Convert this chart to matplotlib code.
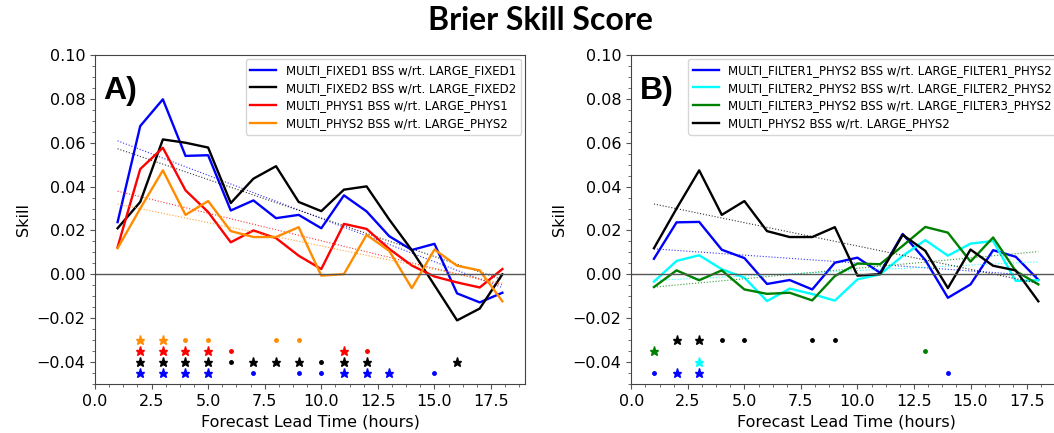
import numpy as np
import matplotlib
matplotlib.use('Agg')
import matplotlib.pyplot as plt
from matplotlib.ticker import AutoMinorLocator

# Brier skill score vs forecast lead time, two panels

hours = np.arange(1, 19)

# panel A series
fixed1 = [0.0238, 0.0676, 0.0798, 0.0540, 0.0543, 0.0291, 0.0337, 0.0256, 0.0271,
          0.0210, 0.0360, 0.0287, 0.0174, 0.0111, 0.0139, -0.0087, -0.0128, -0.0084]
fixed2 = [0.0210, 0.0330, 0.0615, 0.0600, 0.0578, 0.0325, 0.0436, 0.0493, 0.0330,
          0.0288, 0.0386, 0.0401, 0.0250, 0.0110, -0.0050, -0.0210, -0.0156, 0.0000]
phys1 = [0.0124, 0.0480, 0.0577, 0.0383, 0.0284, 0.0146, 0.0200, 0.0165, 0.0085,
         0.0024, 0.0230, 0.0207, 0.0116, 0.0040, -0.0010, -0.0037, -0.0060, 0.0024]
phys2 = [0.0119, 0.0300, 0.0474, 0.0271, 0.0334, 0.0197, 0.0170, 0.0170, 0.0215,
         -0.0006, 0.0001, 0.0180, 0.0107, -0.0063, 0.0113, 0.0039, 0.0018, -0.0123]

# panel B series
filter1 = [0.0071, 0.0237, 0.0239, 0.0112, 0.0074, -0.0044, -0.0026, -0.0069, 0.0053,
           0.0076, 0.0007, 0.0184, 0.0065, -0.0107, -0.0046, 0.0110, 0.0080, -0.0025]
filter2 = [-0.0033, 0.0061, 0.0087, 0.0023, -0.0015, -0.0122, -0.0065, -0.0090, -0.0120,
           -0.0023, 0.0000, 0.0084, 0.0156, 0.0085, 0.0140, 0.0152, -0.0030, -0.0027]
filter3 = [-0.0058, 0.0018, -0.0027, 0.0018, -0.0069, -0.0089, -0.0084, -0.0119, -0.0008,
           0.0049, 0.0046, 0.0130, 0.0216, 0.0190, 0.0058, 0.0168, 0.0015, -0.0046]

# significance markers: (row y, star hours, dot hours)
sig_a = {
    'darkorange': (-0.030, [2, 3], [4, 5, 8, 9]),
    'red': (-0.035, [2, 3, 4, 5, 11], [6, 12]),
    'black': (-0.040, [2, 3, 4, 5, 7, 8, 9, 11, 12, 16], [6, 10]),
    'blue': (-0.045, [2, 3, 4, 5, 11, 12, 13], [7, 9, 10, 15]),
}
sig_b = {
    'black': (-0.030, [2, 3], [4, 5, 8, 9]),
    'green': (-0.035, [1], [13]),
    'cyan': (-0.040, [3], []),
    'blue': (-0.045, [2, 3], [1, 14]),
}

labels_a = ['MULTI_FIXED1 BSS w/rt. LARGE_FIXED1',
            'MULTI_FIXED2 BSS w/rt. LARGE_FIXED2',
            'MULTI_PHYS1 BSS w/rt. LARGE_PHYS1',
            'MULTI_PHYS2 BSS w/rt. LARGE_PHYS2']
labels_b = ['MULTI_FILTER1_PHYS2 BSS w/rt. LARGE_FILTER1_PHYS2',
            'MULTI_FILTER2_PHYS2 BSS w/rt. LARGE_FILTER2_PHYS2',
            'MULTI_FILTER3_PHYS2 BSS w/rt. LARGE_FILTER3_PHYS2',
            'MULTI_PHYS2 BSS w/rt. LARGE_PHYS2']
colors_a = ['blue', 'black', 'red', 'darkorange']
colors_b = ['blue', 'cyan', 'green', 'black']


def draw_panel(ax, series, labels, colors, sig, tag):
    for y, lab, c in zip(series, labels, colors):
        ax.plot(hours, y, color=c, lw=1.7, label=lab)
        # linear trend
        p = np.polyfit(hours, y, 1)
        ax.plot(hours, np.polyval(p, hours), color=c, lw=0.8, ls=':', alpha=0.8)
    ax.axhline(0, color='#555555', lw=1.0)
    for c, (row, stars, dots) in sig.items():
        ax.plot(stars, [row] * len(stars), '*', color=c, ms=6.5, ls='none')
        ax.plot(dots, [row] * len(dots), '.', color=c, ms=5, ls='none')
    ax.set_xlim(0, 19)
    ax.set_ylim(-0.05, 0.10)
    ax.set_xticks(np.arange(0, 18, 2.5))
    ax.set_yticks(np.arange(-0.04, 0.101, 0.02))
    ax.xaxis.set_minor_locator(AutoMinorLocator(4))
    ax.yaxis.set_minor_locator(AutoMinorLocator(4))
    ax.tick_params(labelsize=11.5, color='#555555')
    ax.tick_params(which='minor', color='#555555')
    for s in ax.spines.values():
        s.set_color('#444444')
    ax.set_xlabel('Forecast Lead Time (hours)', fontsize=11.5)
    ax.set_ylabel('Skill', fontsize=11.5)
    ax.legend(loc='upper right', fontsize=8.5, handlelength=2.2, labelspacing=0.4,
              borderaxespad=0.35)
    ax.text(0.02, 0.935, tag, transform=ax.transAxes, fontsize=23, fontweight='bold',
            family='Liberation Sans', va='top', ha='left')


fig = plt.figure(figsize=(10.54, 4.33), dpi=100)
ax1 = fig.add_axes([0.0901, 0.1132, 0.408, 0.7598])
ax2 = fig.add_axes([0.599, 0.1132, 0.4076, 0.7598])

draw_panel(ax1, [fixed1, fixed2, phys1, phys2], labels_a, colors_a, sig_a, 'A)')
draw_panel(ax2, [filter1, filter2, filter3, phys2], labels_b, colors_b, sig_b, 'B)')

fig.text(0.513, 0.952, 'Brier Skill Score', ha='center', va='center',
         fontsize=23, fontweight='bold', family='Lato')

fig.savefig('out.png', dpi=100)
